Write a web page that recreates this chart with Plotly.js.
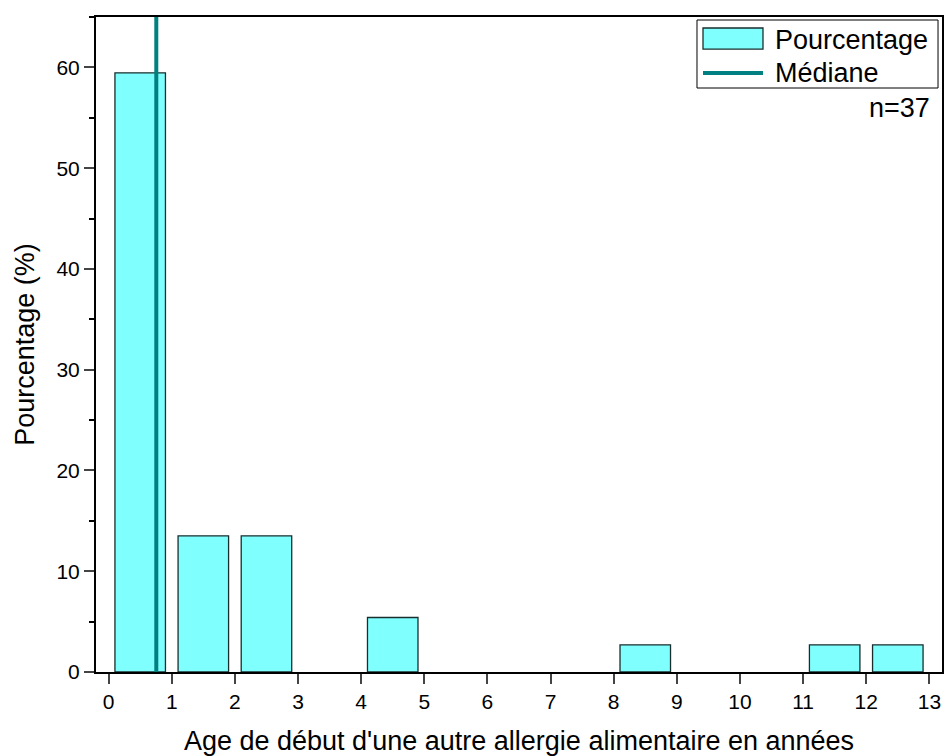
<!DOCTYPE html>
<html>
<head>
<meta charset="utf-8">
<script src="https://cdn.plot.ly/plotly-3.0.1.min.js"></script>
<style>html,body{margin:0;padding:0;background:#fff;}#chart{width:944px;height:756px;}</style>
</head>
<body>
<div id="chart"></div>
<script>
const binCenters = [0.5, 1.5, 2.5, 4.5, 8.5, 11.5, 12.5];
const percentages = [59.46, 13.51, 13.51, 5.41, 2.70, 2.70, 2.70];
const medianAge = 0.755;
const medianX = [medianAge, medianAge];
const medianY = [-0.3, 65];
const xTickVals = [0,1,2,3,4,5,6,7,8,9,10,11,12,13];
const legendLabels = ['Pourcentage', 'Médiane'];
const sampleLabel = 'n=37';

const barFill = '#80FFFF';
const barLine = '#1a2e2e';
const medianColor = '#008080';

const traces = [
  {
    type: 'bar', name: legendLabels[0],
    x: binCenters, y: percentages, width: 0.8,
    marker: {color: barFill, line: {color: barLine, width: 1.3}},
    showlegend: false
  },
  {
    type: 'scatter', mode: 'lines', name: legendLabels[1],
    x: medianX, y: medianY, cliponaxis: false,
    line: {color: medianColor, width: 4},
    showlegend: false
  }
];

const layout = {
  width: 944, height: 756,
  margin: {l: 96, r: 2, t: 17, b: 84},
  paper_bgcolor: '#fff', plot_bgcolor: '#fff',
  font: {family: 'Liberation Sans, Arial, sans-serif', color: '#000', size: 21},
  showlegend: false,
  bargap: 0,
  xaxis: {
    range: [-0.2, 13.2], tickvals: xTickVals, ticks: 'outside', ticklen: 10, tickwidth: 2,
    showline: true, mirror: true, linewidth: 2, linecolor: '#000', showgrid: false, zeroline: false,
    tickfont: {size: 21},
    title: {text: "Age de début d'une autre allergie alimentaire en années", font: {size: 27}, standoff: 19}
  },
  yaxis: {
    range: [0, 65], dtick: 10, ticks: 'outside', ticklen: 10, tickwidth: 2,
    minor: {dtick: 5, ticks: 'outside', ticklen: 5, tickwidth: 2, tickcolor: '#000'},
    showline: true, mirror: true, linewidth: 2, linecolor: '#000', showgrid: false, zeroline: false,
    tickfont: {size: 21},
    title: {text: 'Pourcentage (%)', font: {size: 27}, standoff: 14}
  },
  shapes: [
    {type: 'rect', xref: 'paper', yref: 'paper', x0: 0.7104, x1: 0.9953, y0: 0.8916, y1: 0.9954,
     line: {color: '#000', width: 1}, fillcolor: '#fff'},
    {type: 'rect', xref: 'paper', yref: 'paper', x0: 0.7175, x1: 0.7884, y0: 0.9511, y1: 0.9832,
     line: {color: barLine, width: 1.3}, fillcolor: barFill},
    {type: 'line', xref: 'paper', yref: 'paper', x0: 0.7175, x1: 0.7884, y0: 0.9145, y1: 0.9145,
     line: {color: medianColor, width: 4}}
  ],
  annotations: [
    {text: legendLabels[0], xref: 'paper', yref: 'paper', x: 0.8002, y: 0.9649,
     xanchor: 'left', yanchor: 'middle', showarrow: false, font: {size: 27}},
    {text: legendLabels[1], xref: 'paper', yref: 'paper', x: 0.8002, y: 0.9145,
     xanchor: 'left', yanchor: 'middle', showarrow: false, font: {size: 27}},
    {text: sampleLabel, xref: 'paper', yref: 'paper', x: 0.9882, y: 0.8611,
     xanchor: 'right', yanchor: 'middle', showarrow: false, font: {size: 27}}
  ]
};

Plotly.newPlot('chart', traces, layout, {displayModeBar: false, staticPlot: true});
</script>
</body>
</html>
